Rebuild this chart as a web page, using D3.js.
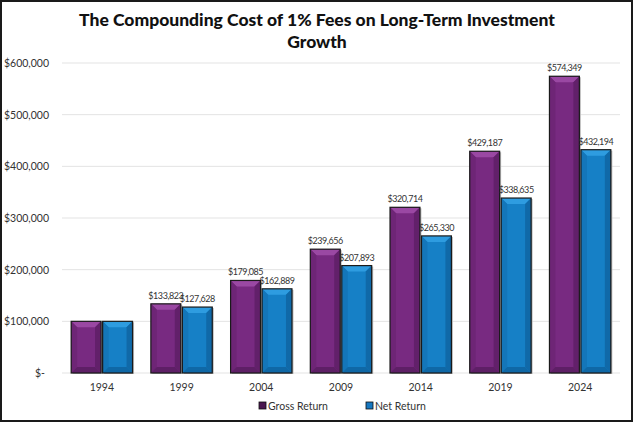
<!DOCTYPE html>
<html>
<head>
<meta charset="utf-8">
<script src="https://cdn.jsdelivr.net/npm/d3@7"></script>
<style>
  body { margin: 0; background: #fff; }
  svg { display: block; font-family: Lato, "Open Sans", sans-serif; }
</style>
</head>
<body>
<svg id="chart" width="633" height="422"></svg>
<script>
// chart data
const years = ["1994", "1999", "2004", "2009", "2014", "2019", "2024"]
const grossReturn = [100000, 133823, 179085, 239656, 320714, 429187, 574349]
const netReturn = [100000, 127628, 162889, 207893, 265330, 338635, 432194]
const seriesNames = ["Gross Return", "Net Return"]
const yTicks = [0, 100000, 200000, 300000, 400000, 500000, 600000]

let svg = d3.select('#chart')
let width = 633, height = 422

// palettes: face, top, left, right, bottom
let palettes = [
    {face: '#782a81', top: '#9a48a3', left: '#6e2576', right: '#62206a', bottom: '#5e1f66', legend: '#4a1750'},
    {face: '#1680c6', top: '#2e9ce0', left: '#1476b9', right: '#1069a8', bottom: '#0f68a6', legend: '#1677c0'}
]

svg.append('rect')
    .attr('x', 1).attr('y', 1)
    .attr('width', width - 2).attr('height', height - 2)
    .attr('fill', '#fff')
    .attr('stroke', '#1a1a1a')
    .attr('stroke-width', 2)

// title
let title = svg.append('text')
    .attr('text-anchor', 'middle')
    .style('font-size', '17.5px')
    .style('font-weight', '900')
    .attr('fill', '#111')
title.append('tspan').attr('x', 317).attr('y', 26).text('The Compounding Cost of 1% Fees on Long-Term Investment')
title.append('tspan').attr('x', 317).attr('y', 48).text('Growth')

let x = d3.scaleBand().domain(years).range([62, 620]).paddingInner(0.23).paddingOuter(0.115)
let xs = d3.scaleBand().domain(seriesNames).range([0, x.bandwidth()]).paddingInner(0.05)
let y = d3.scaleLinear().domain([0, 600000]).range([373, 63])

// grid
svg.append('g')
    .selectAll('line')
    .data(yTicks)
    .enter()
    .append('line')
    .attr('x1', 62).attr('x2', 620)
    .attr('y1', d => y(d)).attr('y2', d => y(d))
    .attr('stroke', '#e3e3e3')
    .attr('stroke-width', 1)

// y axis labels
let fmt = d3.format(',')
svg.append('g')
    .selectAll('text')
    .data(yTicks)
    .enter()
    .append('text')
    .attr('x', d => d === 0 ? 45 : 49)
    .attr('y', d => y(d) + 4)
    .attr('text-anchor', 'end')
    .style('font-size', '10.5px')
    .attr('fill', '#333')
    .text(d => d === 0 ? '$-' : '$' + fmt(d))

// x axis labels
svg.append('g')
    .selectAll('text')
    .data(years)
    .enter()
    .append('text')
    .attr('x', d => x(d) + x.bandwidth() / 2)
    .attr('y', 391)
    .attr('text-anchor', 'middle')
    .style('font-size', '10.5px')
    .attr('fill', '#333')
    .text(d => d)

let barData = []
years.forEach(function (yr, i) {
    barData.push({year: yr, series: 0, value: grossReturn[i]})
    barData.push({year: yr, series: 1, value: netReturn[i]})
})

let bev = 6
let bars = svg.append('g')
    .selectAll('.bar')
    .data(barData)
    .enter()
    .append('g')
    .attr('transform', d => `translate(${x(d.year) + xs(seriesNames[d.series])},${y(d.value)})`)

bars.each(function (d) {
    let g = d3.select(this)
    let p = palettes[d.series]
    let w = xs.bandwidth()
    let h = y(0) - y(d.value)
    g.append('rect').attr('x', 1.5).attr('y', 1).attr('width', w).attr('height', h).attr('fill', '#bbb')
    g.append('rect').attr('width', w).attr('height', h).attr('fill', p.face)
    g.append('polygon').attr('points', `0,0 ${w},0 ${w - bev},${bev} ${bev},${bev}`).attr('fill', p.top)
    g.append('polygon').attr('points', `0,0 ${bev},${bev} ${bev},${h - bev} 0,${h}`).attr('fill', p.left)
    g.append('polygon').attr('points', `${w},0 ${w},${h} ${w - bev},${h - bev} ${w - bev},${bev}`).attr('fill', p.right)
    g.append('polygon').attr('points', `0,${h} ${bev},${h - bev} ${w - bev},${h - bev} ${w},${h}`).attr('fill', p.bottom)
    g.append('rect').attr('width', w).attr('height', h)
        .attr('fill', 'none').attr('stroke', '#1a1a1a').attr('stroke-width', 1.2)
})

// value labels (skip the starting values)
svg.append('g')
    .selectAll('text')
    .data(barData.filter(d => d.year !== years[0]))
    .enter()
    .append('text')
    .attr('x', d => x(d.year) + xs(seriesNames[d.series]) + xs.bandwidth() / 2)
    .attr('y', d => y(d.value) - 5)
    .attr('text-anchor', 'middle')
    .style('font-size', '9px')
    .style('letter-spacing', '-0.45px')
    .attr('fill', '#333')
    .text(d => '$' + fmt(d.value))

// legend
let legendX = [259, 366]
let legend = svg.append('g')
    .selectAll('g')
    .data(seriesNames)
    .enter()
    .append('g')
    .attr('transform', (d, i) => `translate(${legendX[i]},${402})`)
legend.append('rect')
    .attr('width', 7).attr('height', 7)
    .attr('fill', (d, i) => palettes[i].legend)
    .attr('stroke', '#111').attr('stroke-width', 0.8)
legend.append('text')
    .attr('x', 9).attr('y', 7.5)
    .style('font-size', '10.5px')
    .attr('fill', '#333')
    .text(d => d)
</script>
</body>
</html>
